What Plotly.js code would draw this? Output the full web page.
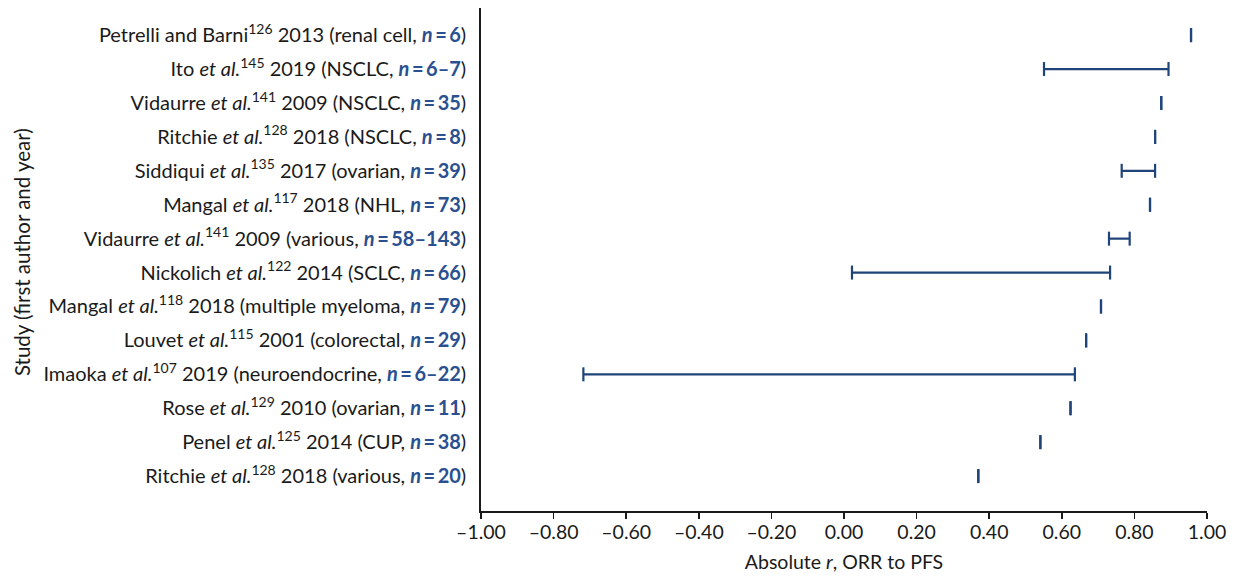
<!DOCTYPE html>
<html>
<head>
<meta charset="utf-8">
<script src="https://cdn.plot.ly/plotly-3.0.1.min.js"></script>
<style>
  html, body { margin: 0; padding: 0; background: #ffffff; }
  #chart { width: 1236px; height: 577px; }
</style>
</head>
<body>
<div id="chart"></div>
<script>
// Study descriptions (first author, reference, year, setting) and sample sizes
const studyNames = [
  "Petrelli and Barni<sup>126</sup> 2013 (renal cell, ",
  "Ito <i>et al.</i><sup>145</sup> 2019 (NSCLC, ",
  "Vidaurre <i>et al.</i><sup>141</sup> 2009 (NSCLC, ",
  "Ritchie <i>et al.</i><sup>128</sup> 2018 (NSCLC, ",
  "Siddiqui <i>et al.</i><sup>135</sup> 2017 (ovarian, ",
  "Mangal <i>et al.</i><sup>117</sup> 2018 (NHL, ",
  "Vidaurre <i>et al.</i><sup>141</sup> 2009 (various, ",
  "Nickolich <i>et al.</i><sup>122</sup> 2014 (SCLC, ",
  "Mangal <i>et al.</i><sup>118</sup> 2018 (multiple myeloma, ",
  "Louvet <i>et al.</i><sup>115</sup> 2001 (colorectal, ",
  "Imaoka <i>et al.</i><sup>107</sup> 2019 (neuroendocrine, ",
  "Rose <i>et al.</i><sup>129</sup> 2010 (ovarian, ",
  "Penel <i>et al.</i><sup>125</sup> 2014 (CUP, ",
  "Ritchie <i>et al.</i><sup>128</sup> 2018 (various, "
];
const sampleSizes = ["6", "6–7", "35", "8", "39", "73", "58–143", "66", "79", "29", "6–22", "11", "38", "20"];

// Absolute correlation between ORR and PFS: lower and upper reported value
const rLow  = [0.956, 0.551, 0.874, 0.857, 0.765, 0.843, 0.730, 0.022, 0.708, 0.667, -0.718, 0.624, 0.541, 0.370];
const rHigh = [0.956, 0.894, 0.874, 0.857, 0.857, 0.843, 0.787, 0.733, 0.708, 0.667,  0.636, 0.624, 0.541, 0.370];

// x-axis ticks
const xTickVals = [-1, -0.8, -0.6, -0.4, -0.2, 0, 0.2, 0.4, 0.6, 0.8, 1];
const xTickText = ["–1.00", "–0.80", "–0.60", "–0.40", "–0.20", "0.00", "0.20", "0.40", "0.60", "0.80", "1.00"];

const markColor = "#1f4479";
const nColor = "#2a5090";

const rows = studyNames.map((_, i) => i);
const yLabels = studyNames.map((s, i) =>
  s + '<span style="color:' + nColor + '"><b><i>n</i>\u2009=\u2009' + sampleSizes[i] + '</b></span>)'
);

// One path per study: a line from low to high, with a cap at each end
const xs = [], ys = [];
rows.forEach(i => {
  xs.push(rLow[i], rHigh[i], null);
  ys.push(i, i, null);
});

const trace = {
  type: "scatter",
  mode: "lines+markers",
  x: xs,
  y: ys,
  connectgaps: false,
  line: { color: markColor, width: 2.2 },
  marker: { symbol: "line-ns", size: 10, color: markColor, line: { color: markColor, width: 2.2 } },
  hoverinfo: "skip",
  showlegend: false
};

const layout = {
  width: 1236,
  height: 577,
  margin: { l: 481, r: 29, t: 8, b: 66 },
  paper_bgcolor: "#ffffff",
  plot_bgcolor: "#ffffff",
  font: { family: "Lato, 'Open Sans', sans-serif", size: 20, color: "#1a1a1a" },
  xaxis: {
    range: [-1, 1],
    tickvals: xTickVals,
    ticktext: xTickText,
    ticks: "outside",
    ticklen: 6,
    tickwidth: 1.5,
    tickcolor: "#1a1a1a",
    ticklabelstandoff: -3,
    showline: true,
    linecolor: "#1a1a1a",
    linewidth: 1.5,
    showgrid: false,
    zeroline: false,
    tickfont: { size: 19.5 },
    title: { text: "Absolute <i>r</i>, ORR to PFS", font: { size: 19.5 }, standoff: 13 },
    fixedrange: true
  },
  yaxis: {
    range: [14.03, -0.8],
    tickvals: rows,
    ticktext: yLabels,
    ticks: "",
    ticklabelstandoff: 9,
    showline: true,
    linecolor: "#1a1a1a",
    linewidth: 1.8,
    showgrid: false,
    zeroline: false,
    tickfont: { size: 20 },
    fixedrange: true
  },
  // vertical axis title, placed left of the study labels
  annotations: [{
    text: "Study (first author and year)",
    xref: "paper", yref: "paper",
    x: -0.632, y: 0.515,
    xanchor: "center", yanchor: "middle",
    textangle: -90,
    showarrow: false,
    font: { size: 20.5, color: "#1a1a1a" }
  }]
};

Plotly.newPlot("chart", [trace], layout, { displayModeBar: false, staticPlot: true });
</script>
</body>
</html>
